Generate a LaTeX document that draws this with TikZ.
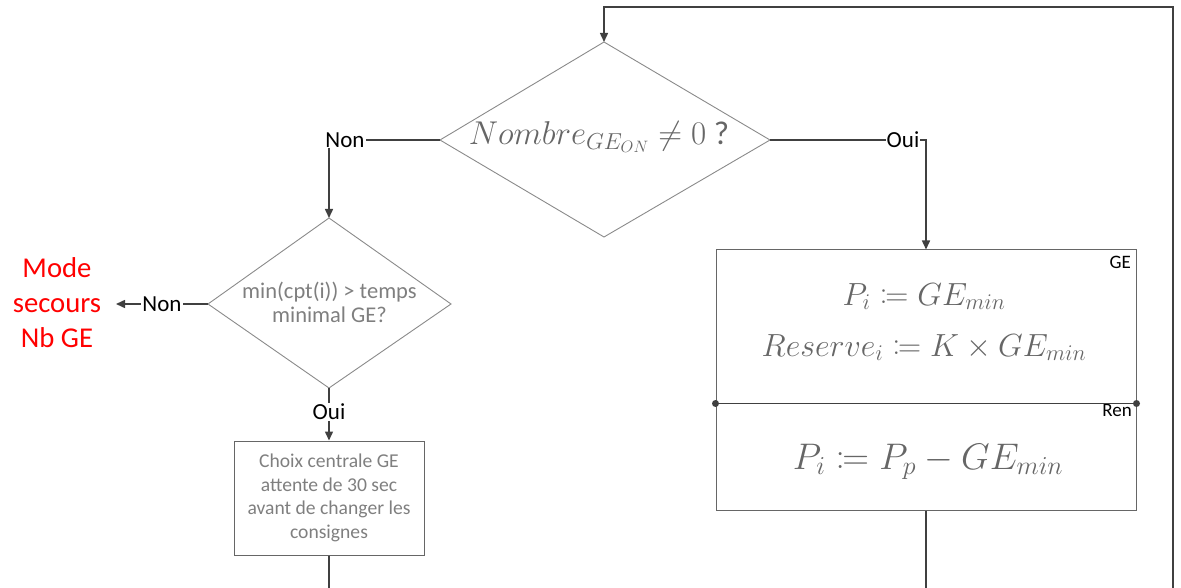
\RequirePackage{fix-cm}
\documentclass[tikz,border=0pt]{standalone}
\usepackage{amsmath}
\usepackage{mathtools}
\usepackage[no-math]{fontspec}
\setmainfont{Carlito}
\usetikzlibrary{arrows.meta,calc}
\definecolor{conncol}{HTML}{404040}
\definecolor{shapecol}{HTML}{8A8A8A}
\definecolor{boxcol}{HTML}{666666}
\definecolor{txtgray}{HTML}{7F7F7F}
\definecolor{mathgray}{HTML}{666666}
\definecolor{modered}{HTML}{FF0000}
\begin{document}
\begin{tikzpicture}[x=1pt,y=-1pt,
  conn/.style={draw=conncol,line width=1.5pt},
  arr/.style={-{Triangle[length=9pt,width=8pt]}},
  dshape/.style={draw=shapecol,line width=0.9pt},
  dtext/.style={text=txtgray,align=center,inner sep=0pt},
  procbox/.style={rectangle,draw=boxcol,line width=1pt,inner sep=0pt,text=txtgray,align=center},
  lab/.style={fill=white,inner sep=1pt,text=black,font=\fontsize{23}{26}\selectfont},
  corner/.style={text=black,inner sep=0pt,font=\fontsize{19}{22}\selectfont},
  dot/.style={circle,fill=conncol,inner sep=0pt,minimum size=7pt}]
\useasboundingbox (0,0) rectangle (1181,588);

% big decision diamond
\coordinate (bigN) at (604,42);
\coordinate (bigS) at (604,237);
\coordinate (bigW) at (440,140);
\coordinate (bigE) at (770,140);
\draw[dshape] (bigN) -- (bigE) -- (bigS) -- (bigW) -- cycle;
\node[dtext,text=mathgray,font=\fontsize{33}{36}\selectfont] (big) at (599,137)
  {$Nombre_{GE_{ON}}\neq 0\ \text{?}$};

% small decision diamond
\coordinate (smN) at (329,218);
\coordinate (smS) at (329,388);
\coordinate (smW) at (208,304);
\coordinate (smE) at (451,304);
\draw[dshape] (smN) -- (smE) -- (smS) -- (smW) -- cycle;
\node[dtext,font=\fontsize{22.5}{24}\selectfont] (small) at (329.5,302)
  {min(cpt(i)) > temps\\minimal GE?};

\node[procbox,minimum width=190pt,minimum height=114pt,font=\fontsize{19.6}{23.5}\selectfont] (choix) at (329,498)
  {Choix centrale GE\\attente de 30 sec\\avant de changer les\\consignes};

\node[procbox,minimum width=420pt,minimum height=153pt] (ge) at (926,326.5) {};
\node[procbox,minimum width=420pt,minimum height=107pt] (ren) at (926,456.5) {};

\node[text=mathgray,align=center,font=\fontsize{32}{51}\selectfont] (geeq) at (924,322)
  {$P_i\coloneqq GE_{min}$\\$Reserve_i\coloneqq K\times GE_{min}$};
\node[text=mathgray,font=\fontsize{37}{42}\selectfont] (reneq) at (928,462)
  {$P_i\coloneqq P_p-GE_{min}$};

\node[corner,anchor=north east] (getag) at (1131,256) {GE};
\node[corner,anchor=north east] (rentag) at (1132,404) {Ren};

\draw[conn] (ge.south west) -- (ge.south east);
\node[dot] (d1) at (ge.south west) {};
\node[dot] (d2) at (ge.south east) {};

\node[text=modered,align=center,inner sep=0pt,font=\fontsize{28.7}{35}\selectfont] (mode) at (57,303)
  {Mode\\secours\\Nb GE};

\coordinate (b1) at (329,588);
\coordinate (b2) at (926,588);
\coordinate (b3) at (1173,588);
\coordinate (t3) at (1173,7);
\coordinate (t1) at (604,7);
\coordinate (m1) at (116,304);

% connectors
\draw[conn,arr] (bigW) -| (smN);
\node[lab] (non1) at (345,140) {Non};
\draw[conn,arr] (bigE) -| (ge.north);
\node[lab] (oui1) at (903,140) {Oui};
\draw[conn,arr] (smW) -- node[lab,pos=0.5] (non2) {Non} (m1);
\draw[conn,arr] (smS) -- node[lab,pos=0.45] (oui2) {Oui} (choix.north);
\draw[conn] (choix.south) -- (b1);
\draw[conn] (ren.south) -- (b2);
\draw[conn,arr] (b3) -- (t3) -- (t1) -- (bigN);
\end{tikzpicture}
\end{document}
